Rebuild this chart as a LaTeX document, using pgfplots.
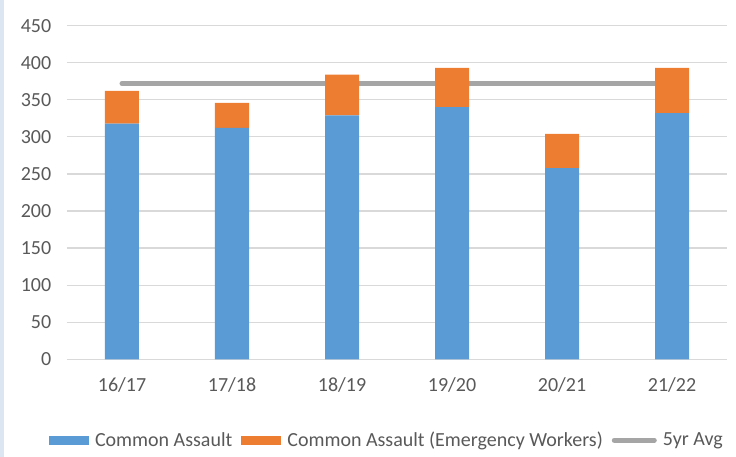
\documentclass[border=0pt]{standalone}
\usepackage{pgfplots}
\pgfplotsset{compat=1.18}
\usepackage{fontspec}
\setmainfont{Carlito}

\definecolor{caBlue}{HTML}{5B9BD5}
\definecolor{caOrange}{HTML}{ED7D31}
\definecolor{avgGray}{HTML}{A5A5A5}
\definecolor{tickGray}{HTML}{595959}
\definecolor{gridGray}{HTML}{D9D9D9}
\definecolor{edgeBlue}{HTML}{DCE6F2}

\begin{document}
\begin{tikzpicture}[x=1pt,y=1pt]
  % frame of the whole picture, axis corner at (0,0)
  \path (-67,-97.7) rectangle (669,359.3);
  \fill[edgeBlue] (-67,-97.7) rectangle (-63,359.3);
  \begin{axis}[
      scale only axis,
      width=660pt, height=333.6pt,
      ybar stacked,
      bar width=34pt,
      xmin=-0.5, xmax=5.5,
      ymin=0, ymax=450,
      ytick={0,50,...,450},
      xtick=data,
      xticklabels={16/17,17/18,18/19,19/20,20/21,21/22},
      axis x line*=bottom,
      axis y line*=left,
      x axis line style={gridGray, line width=1.2pt},
      y axis line style={draw=none},
      major tick length=0pt,
      ymajorgrids,
      grid style={gridGray, line width=1.2pt},
      tick label style={font=\fontsize{20}{23}\selectfont, text=tickGray},
      /pgf/number format/assume math mode=true,
      x tick label style={yshift=-15pt},
      y tick label style={xshift=-12.3pt},
      legend style={
        at={(0.484,-0.2425)}, anchor=center,
        draw=none, fill=none,
        font=\fontsize{20}{23}\selectfont,
        text=tickGray,
        legend columns=-1,
        nodes={inner sep=1pt},
        /tikz/every odd column/.append style={column sep=5pt},
        /tikz/every even column/.append style={column sep=8pt},
      },
      legend cell align=left,
    ]
    \addplot[fill=caBlue, draw=none,
      legend image code/.code={\fill[caBlue] (0pt,-4.5pt) rectangle (40pt,4.5pt);}]
      coordinates {(0,318) (1,312) (2,329) (3,340) (4,258) (5,332)};
    \addlegendentry{Common Assault}
    \addplot[fill=caOrange, draw=none,
      legend image code/.code={\fill[caOrange] (0pt,-4.5pt) rectangle (40pt,4.5pt);}]
      coordinates {(0,44) (1,34) (2,55) (3,53) (4,46) (5,61)};
    \addlegendentry{Common Assault (Emergency Workers)}
    \addplot[stack plots=false, sharp plot, avgGray, line width=5pt, line cap=round,
      legend image code/.code={\draw[avgGray, line width=5pt, line cap=round] (2pt,0pt) -- (42pt,0pt);}]
      coordinates {(0,372) (1,372) (2,372) (3,372) (4,372) (5,372)};
    \addlegendentry{5yr Avg}
  \end{axis}
\end{tikzpicture}
\end{document}
